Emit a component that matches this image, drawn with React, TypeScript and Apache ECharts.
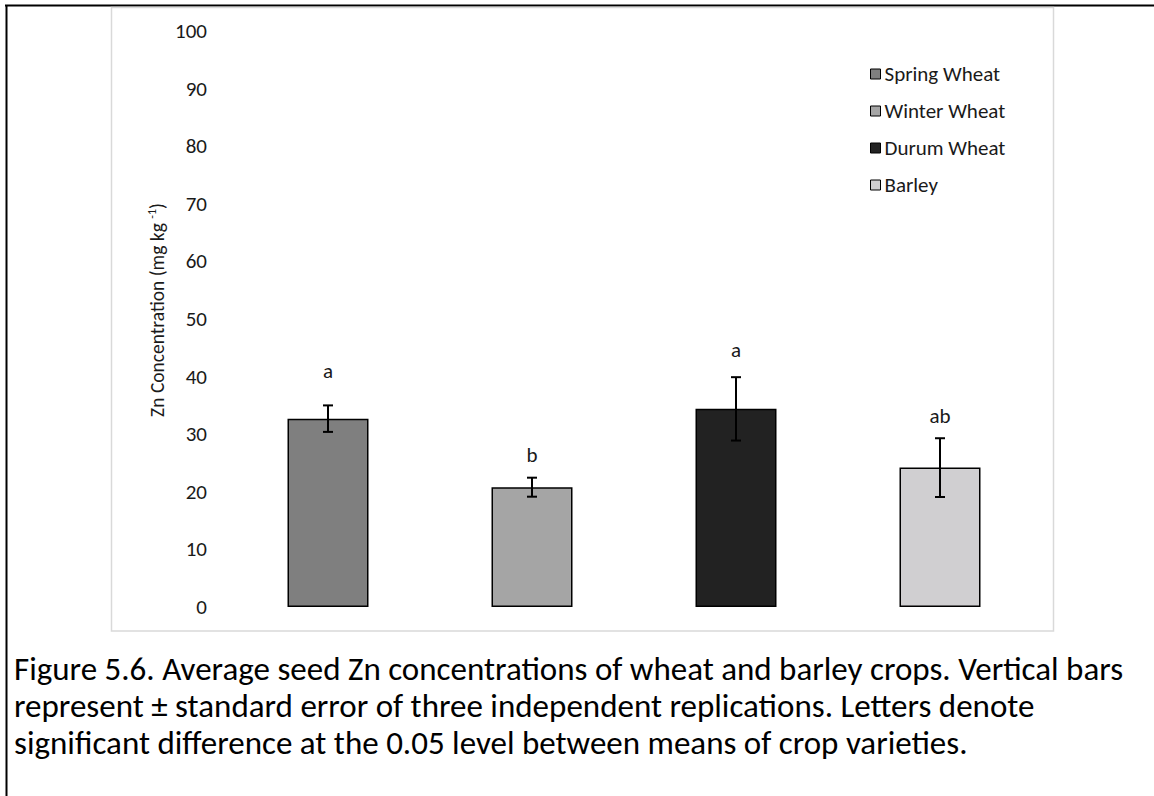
import { useEffect, useRef } from "react";
import * as echarts from "echarts";

const categories = ["Spring Wheat", "Winter Wheat", "Durum Wheat", "Barley"];
const means = [32.7, 20.8, 34.4, 24.2];
const stdErrors = [2.3, 1.65, 5.5, 5.1];
const letters = ["a", "b", "a", "ab"];
const letterLevels = [41.0, 26.4, 44.6, 33.2];
const barColors = ["#7f7f7f", "#a5a5a5", "#222222", "#d0cfd1"];
const yMin = 0;
const yMax = 100;
const yInterval = 10;
const yTitle = "{a|Zn Concentration (mg kg }{s|-1}{a|)}";
const captionLines = [
  "Figure 5.6. Average seed Zn concentrations of wheat and barley crops. Vertical bars",
  "represent \u00b1 standard error of three independent replications. Letters denote",
  "significant difference at the 0.05 level between means of crop varieties.",
];

const FONT = "Carlito, Calibri, Lato, sans-serif";

export default function App() {
  const ref = useRef<HTMLDivElement>(null);
  useEffect(() => {
    if (!ref.current) return;
    const chart = echarts.init(ref.current, undefined, { renderer: "svg" });
    const barSeries = categories.map((name, i) => ({
      name,
      type: "bar",
      stack: "crop",
      barWidth: 81,
      data: categories.map((_, j) => (j === i ? means[i] : "-")),
      itemStyle: { color: barColors[i], borderColor: "#000", borderWidth: 1.5 },
      silent: true,
    }));
    const option: any = {
      animation: false,
      grid: { left: 226, width: 816, top: 31, bottom: 189, containLabel: false },
      xAxis: {
        type: "category",
        data: categories,
        axisLine: { show: false },
        axisTick: { show: false },
        axisLabel: { show: false },
        splitLine: { show: false },
      },
      yAxis: {
        type: "value",
        min: yMin,
        max: yMax,
        interval: yInterval,
        axisLine: { show: false },
        axisTick: { show: false },
        splitLine: { show: false },
        axisLabel: { fontSize: 21, fontFamily: FONT, color: "#1a1a1a", margin: 19 },
      },
      legend: {
        orient: "vertical",
        left: 865,
        top: 58,
        itemWidth: 10,
        itemHeight: 10,
        itemGap: 15,
        icon: "rect",
        itemStyle: { borderColor: "#000", borderWidth: 1 },
        textStyle: { fontSize: 21, fontFamily: FONT, color: "#1a1a1a", lineHeight: 22, padding: [0, 0, 0, -1] },
        data: categories,
      },
      series: [
        ...barSeries,
        {
          type: "custom",
          silent: true,
          z: 10,
          data: means.map((m, i) => [i, m, stdErrors[i], letterLevels[i]]),
          encode: { x: 0, y: 1 },
          renderItem: (params: any, api: any) => {
            const i = api.value(0);
            const m = api.value(1);
            const e = api.value(2);
            const l = api.value(3);
            const top = api.coord([i, m + e]);
            const bot = api.coord([i, m - e]);
            const lab = api.coord([i, l]);
            const cap = 5;
            const st = { stroke: "#000", lineWidth: 2 };
            return {
              type: "group",
              children: [
                { type: "line", shape: { x1: top[0], y1: top[1], x2: bot[0], y2: bot[1] }, style: st },
                { type: "line", shape: { x1: top[0] - cap, y1: top[1], x2: top[0] + cap, y2: top[1] }, style: st },
                { type: "line", shape: { x1: bot[0] - cap, y1: bot[1], x2: bot[0] + cap, y2: bot[1] }, style: st },
                {
                  type: "text",
                  x: lab[0],
                  y: lab[1],
                  style: {
                    text: letters[params.dataIndex],
                    fill: "#1a1a1a",
                    fontSize: 21,
                    fontFamily: FONT,
                    align: "center",
                    verticalAlign: "middle",
                  },
                },
              ],
            };
          },
        },
      ],
      graphic: [
        { type: "line", shape: { x1: 5, y1: 5.5, x2: 1154, y2: 5.5 }, style: { stroke: "#000", lineWidth: 2 } },
        { type: "line", shape: { x1: 6.5, y1: 5, x2: 6.5, y2: 796 }, style: { stroke: "#000", lineWidth: 2 } },
        {
          type: "rect",
          shape: { x: 111.5, y: 7.5, width: 942, height: 623.5 },
          style: { fill: "none", stroke: "#d9d9d9", lineWidth: 1.5 },
        },
        {
          type: "text",
          x: 157,
          y: 310,
          rotation: Math.PI / 2,
          style: {
            text: yTitle,
            align: "center",
            verticalAlign: "middle",
            fill: "#1a1a1a",
            rich: {
              a: { fontSize: 19.5, fontFamily: FONT, fill: "#1a1a1a", lineHeight: 22 },
              s: { fontSize: 12, fontFamily: FONT, fill: "#1a1a1a", padding: [0, 0, 10, 0] },
            },
          },
        },
        ...captionLines.map((t, k) => ({
          type: "text",
          x: 14,
          y: 669 + k * 37,
          style: { text: t, fontSize: 33, fontFamily: FONT, fill: "#000", align: "left", verticalAlign: "middle" },
        })),
      ],
    };
    chart.setOption(option);
    return () => chart.dispose();
  }, []);
  return (
    <div
      ref={ref}
      style={{ position: "absolute", left: 0, top: 0, width: 1154, height: 796, background: "#fff" }}
    />
  );
}
